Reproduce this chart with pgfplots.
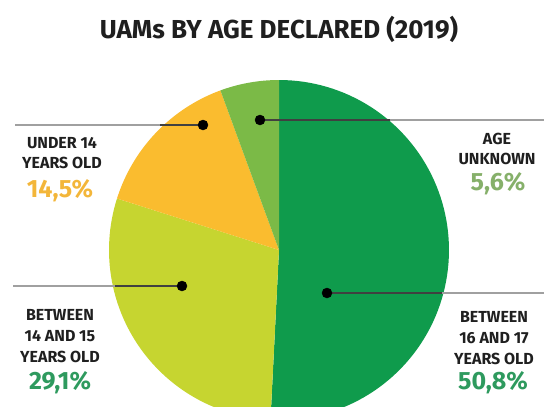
\documentclass[border=0pt]{standalone}
\usepackage{pgfplots}
\pgfplotsset{compat=1.18}
\usepackage{fontspec}
\setmainfont{Fira Sans}

\definecolor{dkgreen}{HTML}{0F9B4C}
\definecolor{ygreen}{HTML}{C6D530}
\definecolor{orng}{HTML}{FABC2F}
\definecolor{ltgreen}{HTML}{7BBA47}
\definecolor{pctgreen}{HTML}{2E9A5E}
\definecolor{pctorng}{HTML}{F3B63A}
\definecolor{pctlt}{HTML}{86B06A}
\definecolor{leader}{HTML}{A0A0A0}

% shares in percent, clockwise from the top
\def\sA{50.8} % 16-17
\def\sB{29.1} % 14-15
\def\sC{14.5} % under 14
\def\sD{5.6}  % unknown
\pgfmathsetmacro\aA{90}
\pgfmathsetmacro\aB{\aA-3.6*\sA}
\pgfmathsetmacro\aC{\aB-3.6*\sB}
\pgfmathsetmacro\aD{\aC-3.6*\sC}
\pgfmathsetmacro\aE{\aD-3.6*\sD}

\tikzset{lab/.style={font=\bfseries\fontsize{16}{20}\selectfont, align=center, text=black!88},
         pct/.style={font=\bfseries\fontsize{25}{27}\selectfont}}

\begin{document}
\begin{tikzpicture}
\begin{axis}[
    width=544pt, height=407pt, scale only axis,
    xmin=0, xmax=544, ymin=0, ymax=407, y dir=reverse,
    hide axis, clip=true,
  ]
  % wedges, centre (279,250), radius 170
  \addplot[fill=dkgreen, draw=none, domain=\aA:\aB, samples=90, variable=\t]
    ({279+170*cos(t)}, {250-170*sin(t)}) -- (axis cs:279,250) -- cycle;
  \addplot[fill=ygreen, draw=none, domain=\aB:\aC, samples=60, variable=\t]
    ({279+170*cos(t)}, {250-170*sin(t)}) -- (axis cs:279,250) -- cycle;
  \addplot[fill=orng, draw=none, domain=\aC:\aD, samples=40, variable=\t]
    ({279+170*cos(t)}, {250-170*sin(t)}) -- (axis cs:279,250) -- cycle;
  \addplot[fill=ltgreen, draw=none, domain=\aD:\aE, samples=20, variable=\t]
    ({279+170*cos(t)}, {250-170*sin(t)}) -- (axis cs:279,250) -- cycle;

  % leader lines: grey outside, dark inside the pie
  \addplot[leader, line width=1.4pt] coordinates {(15,125) (203,125)};
  \addplot[black!75, line width=1.4pt] coordinates {(160,125) (203,125)};
  \addplot[leader, line width=1.4pt] coordinates {(260,120) (544,120)};
  \addplot[black!75, line width=1.4pt] coordinates {(260,120) (390,120)};
  \addplot[leader, line width=1.4pt] coordinates {(13,286) (182,286)};
  \addplot[black!75, line width=1.4pt] coordinates {(115,286) (182,286)};
  \addplot[leader, line width=1.4pt] coordinates {(327,293) (544,293)};
  \addplot[black!75, line width=1.4pt] coordinates {(327,293) (442,293)};
  \addplot[only marks, mark=*, mark size=5pt, black]
    coordinates {(203,125) (260,120) (182,286) (327,293)};

  % title and labels
  \node[font=\bfseries\fontsize{26}{28}\selectfont, text=black!88]
    at (axis cs:279,29) {UAMs BY AGE DECLARED (2019)};

  \node[lab] at (axis cs:62,153) {UNDER 14\\YEARS OLD};
  \node[pct, text=pctorng] at (axis cs:60,191) {14,5\%};

  \node[lab] at (axis cs:497,149) {AGE\\UNKNOWN};
  \node[pct, text=pctlt] at (axis cs:498,184) {5,6\%};

  \node[lab, font=\bfseries\fontsize{16}{21}\selectfont] at (axis cs:60,336) {BETWEEN\\14 AND 15\\YEARS OLD};
  \node[pct, text=pctgreen] at (axis cs:60,383) {29,1\%};

  \node[lab, font=\bfseries\fontsize{16}{21}\selectfont] at (axis cs:494,338) {BETWEEN\\16 AND 17\\YEARS OLD};
  \node[pct, text=pctgreen] at (axis cs:493,383) {50,8\%};
\end{axis}
\pgfresetboundingbox
\path[use as bounding box] (current axis.south west) rectangle (current axis.north east);
\end{tikzpicture}
\end{document}
